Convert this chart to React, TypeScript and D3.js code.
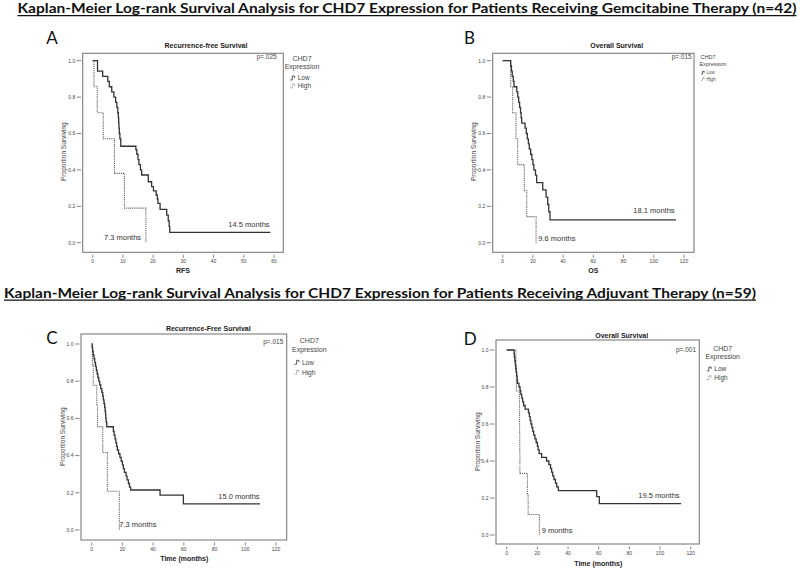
import React from "react";
import * as d3 from "d3";

type Pt = [number, number];

// ---- Data (time in months, proportion surviving) ----
const lowA: Pt[] = [[0,1],[1.6,0.943],[3.3,0.914],[5.0,0.886],[5.5,0.857],[6.3,0.829],[7.0,0.8],[7.6,0.771],[8.0,0.743],[8.3,0.714],[8.5,0.686],[8.6,0.657],[8.7,0.629],[8.8,0.6],[9.0,0.571],[9.3,0.53],[14.3,0.51],[14.6,0.486],[15.0,0.457],[15.3,0.429],[15.8,0.4],[16.2,0.372],[18.4,0.335],[19.5,0.308],[20.1,0.285],[21.0,0.262],[21.4,0.24],[21.6,0.216],[22.3,0.183],[24.5,0.152],[25.0,0.12],[25.3,0.09],[25.5,0.057],[58.8,0.057]];
const highA: Pt[] = [[0,1],[0.4,0.857],[1.5,0.714],[3.5,0.571],[7.2,0.381],[10.5,0.19],[17.6,0]];
const lowB: Pt[] = [[0,1],[5.3,0.971],[5.8,0.943],[6.3,0.914],[7.0,0.886],[7.5,0.857],[9.3,0.829],[10.0,0.8],[10.6,0.771],[11.2,0.743],[11.8,0.714],[12.2,0.686],[12.6,0.657],[14.8,0.629],[15.6,0.6],[16.3,0.571],[17.0,0.543],[17.6,0.514],[18.5,0.486],[19.3,0.457],[20.0,0.429],[20.6,0.4],[21.7,0.371],[22.5,0.33],[26.5,0.29],[28.7,0.25],[29.8,0.21],[30.5,0.17],[31.3,0.125],[114.7,0.125]];
const highB: Pt[] = [[0,1],[5.3,0.857],[6.6,0.714],[8.8,0.571],[9.9,0.429],[14.3,0.286],[15.9,0.143],[22.1,0]];
const lowC: Pt[] = [[0,1],[0.3,0.98],[0.6,0.96],[1.0,0.94],[1.5,0.92],[2.0,0.9],[2.5,0.88],[3.0,0.86],[3.5,0.84],[4.0,0.82],[4.6,0.8],[5.2,0.78],[5.9,0.76],[6.6,0.74],[7.2,0.72],[7.6,0.7],[8.0,0.68],[8.4,0.66],[8.7,0.64],[9.0,0.62],[9.2,0.6],[9.4,0.58],[9.8,0.555],[14.1,0.53],[14.6,0.51],[15.2,0.49],[15.7,0.47],[16.2,0.45],[16.7,0.43],[17.5,0.41],[18.4,0.39],[19.2,0.37],[20.0,0.35],[20.6,0.33],[21.3,0.31],[22.4,0.29],[23.0,0.27],[23.9,0.25],[24.6,0.23],[25.4,0.215],[44.5,0.188],[59.7,0.14],[109.6,0.14]];
const highC: Pt[] = [[0,1],[0.5,0.889],[1.0,0.778],[3.3,0.667],[3.8,0.556],[7.2,0.417],[10.2,0.208],[18.0,0]];
const lowD: Pt[] = [[0,1],[4.8,0.98],[5.0,0.96],[5.3,0.94],[5.6,0.92],[5.9,0.9],[6.2,0.88],[6.5,0.86],[6.8,0.84],[7.0,0.82],[8.0,0.8],[8.7,0.78],[9.2,0.76],[9.8,0.74],[10.4,0.72],[11.0,0.7],[12.0,0.68],[14.2,0.66],[14.8,0.64],[15.3,0.62],[15.8,0.6],[16.4,0.58],[17.0,0.56],[17.6,0.54],[18.4,0.52],[19.2,0.5],[20.0,0.48],[20.5,0.46],[21.2,0.44],[22.8,0.42],[26.0,0.4],[27.5,0.38],[28.6,0.36],[29.3,0.34],[30.0,0.32],[30.8,0.3],[31.8,0.28],[32.6,0.26],[33.7,0.24],[58.7,0.207],[60.4,0.17],[113.7,0.17]];
const highD: Pt[] = [[0,1],[6.0,0.889],[6.3,0.778],[8.3,0.667],[8.4,0.556],[8.5,0.444],[8.6,0.333],[13.5,0.222],[14.0,0.111],[21.3,0]];

const yTicks = [0, 0.2, 0.4, 0.6, 0.8, 1.0];
const xTicks60 = [0, 10, 20, 30, 40, 50, 60];
const xTicks120 = [0, 20, 40, 60, 80, 100, 120];

const CHART_FONT = "'Liberation Sans', Arial, sans-serif";
const HEAD_FONT = "Lato, 'Open Sans', sans-serif";

type Panel = {
  letter: string; letterX: number; letterY: number;
  title: string; titleX: number; titleY: number;
  pText: string; pX: number; pY: number;
  xLabel: string; xLabelX: number; xLabelY: number; xLabelBold: boolean;
  yLabelX: number; yLabelY: number;
  frame: [number, number, number, number];
  xDomain: [number, number]; xRange: [number, number]; yRange: [number, number];
  xTicks: number[];
  low: Pt[]; high: Pt[];
  lowLabel: string; lowLabelX: number; lowLabelY: number;
  highLabel: string; highLabelX: number; highLabelY: number;
  leg: { cx: number; y1: number; y2: number; symX: number; rowLow: number; rowHigh: number; head: number; item: number; expDx: number };
};

const panels: Panel[] = [
  {
    letter: "A", letterX: 52, letterY: 43.5,
    title: "Recurrence-free Survival", titleX: 206, titleY: 47.8,
    pText: "p=.025", pX: 276.7, pY: 59,
    xLabel: "RFS", xLabelX: 183, xLabelY: 273.2, xLabelBold: true,
    yLabelX: 63.3, yLabelY: 151.7,
    frame: [82.7, 53.3, 283.3, 252.3],
    xDomain: [0, 60], xRange: [92.7, 274], yRange: [242.7, 60.7], xTicks: xTicks60,
    low: lowA, high: highA,
    lowLabel: "14.5 months", lowLabelX: 228.3, lowLabelY: 226.6,
    highLabel: "7.3 months", highLabelX: 104, highLabelY: 239.9,
    leg: { cx: 302, y1: 60.5, y2: 68.5, symX: 290.2, rowLow: 78, rowHigh: 86, head: 7, item: 6.5, expDx: 0 },
  },
  {
    letter: "B", letterX: 469.5, letterY: 44,
    title: "Overall Survival", titleX: 616.7, titleY: 47.8,
    pText: "p=.015", pX: 691.7, pY: 59,
    xLabel: "OS", xLabelX: 593.3, xLabelY: 272.7, xLabelBold: true,
    yLabelX: 473.3, yLabelY: 151.7,
    frame: [492.7, 53.3, 694, 252.3],
    xDomain: [0, 120], xRange: [502.7, 684], yRange: [242.7, 60.7], xTicks: xTicks120,
    low: lowB, high: highB,
    lowLabel: "18.1 months", lowLabelX: 633.3, lowLabelY: 213.3,
    highLabel: "9.6 months", highLabelX: 538.3, highLabelY: 240.9,
    leg: { cx: 708, y1: 58.5, y2: 66, symX: 701.2, rowLow: 72.7, rowHigh: 79, head: 5.5, item: 4.5, expDx: 5 },
  },
  {
    letter: "C", letterX: 52, letterY: 344,
    title: "Recurrence-Free Survival", titleX: 208.3, titleY: 330.8,
    pText: "p=.015", pX: 283.3, pY: 344,
    xLabel: "Time (months)", xLabelX: 184.3, xLabelY: 560.8, xLabelBold: true,
    yLabelX: 62.7, yLabelY: 436.7,
    frame: [81, 334, 286.7, 540],
    xDomain: [0, 120], xRange: [91.7, 276], yRange: [530, 344], xTicks: xTicks120,
    low: lowC, high: highC,
    lowLabel: "15.0 months", lowLabelX: 218.3, lowLabelY: 499.3,
    highLabel: "7.3 months", highLabelX: 119.3, highLabelY: 526.9,
    leg: { cx: 309.3, y1: 343, y2: 351.5, symX: 294.5, rowLow: 362.3, rowHigh: 372.3, head: 7, item: 6.5, expDx: 0 },
  },
  {
    letter: "D", letterX: 470.3, letterY: 345,
    title: "Overall Survival", titleX: 621.7, titleY: 337.5,
    pText: "p=.001", pX: 696, pY: 351.6,
    xLabel: "Time (months)", xLabelX: 598.3, xLabelY: 565.8, xLabelBold: true,
    yLabelX: 477.3, yLabelY: 441.7,
    frame: [496, 340, 699.3, 544],
    xDomain: [0, 120], xRange: [506.7, 690.7], yRange: [535, 350], xTicks: xTicks120,
    low: lowD, high: highD,
    lowLabel: "19.5 months", lowLabelX: 638.3, lowLabelY: 497.6,
    highLabel: "9 months", highLabelX: 541.7, highLabelY: 533.3,
    leg: { cx: 722.7, y1: 350.5, y2: 358.5, symX: 706.8, rowLow: 369, rowHigh: 377.7, head: 7, item: 6.5, expDx: 0 },
  },
];

function LegendSym({ x, y, dashed, s }: { x: number; y: number; dashed: boolean; s: number }) {
  const u = s * 0.32;
  const d = `M${x},${y + s * 0.3} h${u} v${-s * 0.6} h${u * 1.1} v${s * 0.3}`;
  return (
    <path d={d} fill="none" stroke={dashed ? "#666" : "#333"} strokeWidth={0.8}
      strokeDasharray={dashed ? "0.9,0.7" : undefined} />
  );
}

function KMPanel({ p }: { p: Panel }) {
  const x = d3.scaleLinear().domain(p.xDomain).range(p.xRange);
  const y = d3.scaleLinear().domain([0, 1]).range(p.yRange);
  const line = d3.line<Pt>().x((d) => x(d[0])).y((d) => y(d[1])).curve(d3.curveStepAfter);
  const [fx0, fy0, fx1, fy1] = p.frame;
  const L = p.leg;
  return (
    <g fontFamily={CHART_FONT}>
      <text x={p.letterX} y={p.letterY} fontFamily={HEAD_FONT} fontSize={17} textAnchor="middle" fill="#111">{p.letter}</text>
      <text x={p.titleX} y={p.titleY} fontSize={7} fontWeight="bold" textAnchor="middle" fill="#222">{p.title}</text>
      <rect x={fx0} y={fy0} width={fx1 - fx0} height={fy1 - fy0} fill="none" stroke="#7d7d7d" strokeWidth={1.1} />
      {yTicks.map((t) => (
        <g key={"y" + t}>
          <line x1={fx0 - 6} x2={fx0 - 1.5} y1={y(t)} y2={y(t)} stroke="#666" strokeWidth={0.8} />
          <text x={fx0 - 7.5} y={y(t) + 1.8} fontSize={5} textAnchor="end" fill="#444">{t.toFixed(1)}</text>
        </g>
      ))}
      {p.xTicks.map((t) => (
        <g key={"x" + t}>
          <line x1={x(t)} x2={x(t)} y1={fy1 + 2.5} y2={fy1 + 5.5} stroke="#666" strokeWidth={0.8} />
          <text x={x(t)} y={fy1 + 10.5} fontSize={5} textAnchor="middle" fill="#444">{t}</text>
        </g>
      ))}
      <text x={p.xLabelX} y={p.xLabelY} fontSize={7} fontWeight={p.xLabelBold ? "bold" : "normal"} textAnchor="middle" fill="#222">{p.xLabel}</text>
      <text transform={`translate(${p.yLabelX},${p.yLabelY}) rotate(-90)`} y={2.3} fontSize={6.5} textAnchor="middle" fill="#444">Proportion Surviving</text>
      <text x={p.pX} y={p.pY} fontSize={6.5} textAnchor="end" fill="#444">{p.pText}</text>
      <path d={line(p.high) || ""} fill="none" stroke="#6a6a6a" strokeWidth={1.1} strokeDasharray="1.2,0.9" />
      <path d={line(p.low) || ""} fill="none" stroke="#333" strokeWidth={1.3} />
      <text x={p.lowLabelX} y={p.lowLabelY} fontSize={7.5} fill="#333">{p.lowLabel}</text>
      <text x={p.highLabelX} y={p.highLabelY} fontSize={7.5} fill="#333">{p.highLabel}</text>
      <text x={L.cx} y={L.y1} fontSize={L.head} textAnchor="middle" fill="#444">CHD7</text>
      <text x={L.cx + L.expDx} y={L.y2} fontSize={L.head} textAnchor="middle" fill="#444">Expression</text>
      <LegendSym x={L.symX} y={L.rowLow} dashed={false} s={L.item} />
      <text x={L.symX + L.item * 1.15} y={L.rowLow + L.item * 0.35} fontSize={L.item} fill="#444">Low</text>
      <LegendSym x={L.symX} y={L.rowHigh} dashed={true} s={L.item} />
      <text x={L.symX + L.item * 1.15} y={L.rowHigh + L.item * 0.35} fontSize={L.item} fill="#444">High</text>
    </g>
  );
}

const heading1 = "Kaplan-Meier Log-rank Survival Analysis for CHD7 Expression for Patients Receiving Gemcitabine Therapy (n=42)";
const heading2 = "Kaplan-Meier Log-rank Survival Analysis for CHD7 Expression for Patients Receiving Adjuvant Therapy (n=59)";

export default function App() {
  return (
    <svg width={800} height={572} style={{ position: "absolute", left: 0, top: 0, background: "#fff" }}>
      <rect x={0} y={0} width={800} height={572} fill="#fff" />
      <text x={17.5} y={13.3} fontFamily={HEAD_FONT} fontWeight="bold" fontSize={12.5} textLength={779} lengthAdjust="spacingAndGlyphs" fill="#111">{heading1}</text>
      <line x1={17.5} x2={796.5} y1={15.6} y2={15.6} stroke="#111" strokeWidth={1.2} />
      <text x={4} y={297.8} fontFamily={HEAD_FONT} fontWeight="bold" fontSize={12.5} textLength={752} lengthAdjust="spacingAndGlyphs" fill="#111">{heading2}</text>
      <line x1={4} x2={756} y1={300.2} y2={300.2} stroke="#111" strokeWidth={1.2} />
      {panels.map((p) => <KMPanel key={p.letter} p={p} />)}
    </svg>
  );
}
